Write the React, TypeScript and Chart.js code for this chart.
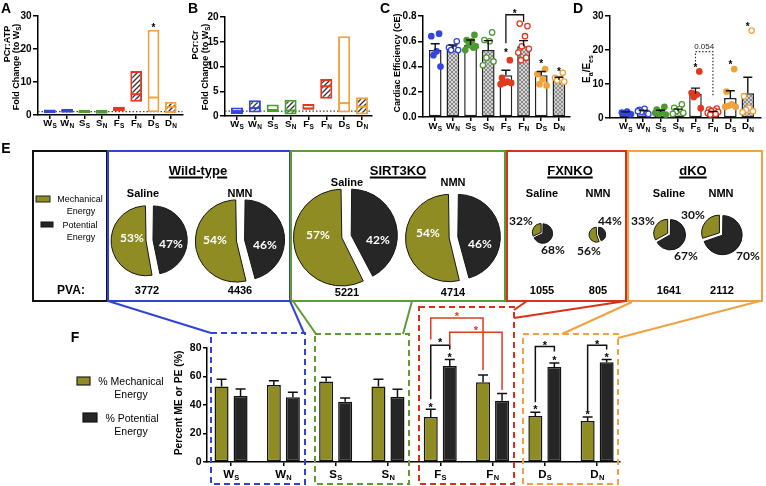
import { useEffect, useRef } from 'react';
import { Chart, registerables } from 'chart.js';

Chart.register(...registerables);

const FONT = '"Liberation Sans", Arial, Helvetica, sans-serif';
const PCT_FONT = 'Lato, "Open Sans", sans-serif';

// ---------- categories ----------
const CAT_MAIN = ['W', 'W', 'S', 'S', 'F', 'F', 'D', 'D'];
const CAT_SUB = ['S', 'N', 'S', 'N', 'S', 'N', 'S', 'N'];
const IS_NMN = [false, true, false, true, false, true, false, true];

const BLUE = '#3246dc';
const GREEN = '#4c9b2e';
const RED = '#e1381f';
const ORANGE = '#f1a33b';
const OLIVE = '#8e8c22';
const DARK = '#262626';
const GROUP_COLORS = [BLUE, BLUE, GREEN, GREEN, RED, RED, ORANGE, ORANGE];

// ---------- Panel A: PCr:ATP fold change (floating min-max with mean line) ----------
const A_LOW = [0.5, 0.7, 0.5, 0.4, 1.2, 4.0, 0.8, 0.6];
const A_HIGH = [1.7, 1.9, 1.6, 1.6, 2.5, 13.3, 25.8, 4.0];
const A_MID = [1.1, 1.3, 1.0, 1.0, 1.9, 6.3, 5.3, 2.4];
const A_STARS = [[6, 27.2]];

// ---------- Panel B: PCr:Cr fold change ----------
const B_LOW = [0.4, 0.7, 1.0, 0.3, 1.3, 3.5, 0.7, 0.3];
const B_HIGH = [1.7, 3.2, 2.3, 3.3, 2.4, 7.5, 16.1, 3.8];
const B_MID = [1.0, 1.6, 1.0, 1.1, 1.5, 6.0, 2.6, 1.9];

// ---------- Panel C: cardiac efficiency ----------
const C_MEAN = [0.53, 0.54, 0.57, 0.53, 0.33, 0.56, 0.33, 0.295];
const C_ERR_TOP = [0.58, 0.57, 0.61, 0.605, 0.37, 0.605, 0.36, 0.315];
const C_POINTS = [
  [0.66, 0.64, 0.52, 0.49, 0.4],
  [0.6, 0.55, 0.54, 0.53, 0.53],
  [0.65, 0.61, 0.6, 0.57, 0.56, 0.53, 0.55],
  [0.67, 0.61, 0.6, 0.47, 0.44, 0.41],
  [0.45, 0.31, 0.28, 0.27, 0.27, 0.26],
  [0.72, 0.74, 0.64, 0.56, 0.54, 0.51, 0.47, 0.45],
  [0.38, 0.34, 0.3, 0.26, 0.25],
  [0.35, 0.31, 0.3, 0.29, 0.28],
];
const C_STARS = [[4, 0.526], [6, 0.44], [7, 0.38]];
const C_BRACKET = { from: 4, to: 5, left: 0.585, top: 0.81, right: 0.755, star: 0.835 };

// ---------- Panel D: Ea/Ees ----------
const D_MEAN = [1.5, 1.9, 1.8, 2.0, 7.1, 1.6, 5.9, 7.3];
const D_ERR_TOP = [1.8, 2.2, 2.3, 2.6, 8.8, 1.9, 8.0, 12.0];
const D_POINTS = [
  [1.2, 1.6, 1.9, 1.4, 1.1],
  [1.5, 2.4, 2.7, 1.8, 1.2, 2.0],
  [3.3, 2.5, 1.8, 1.2, 1.0, 1.5],
  [4.0, 3.0, 2.6, 2.0, 1.5, 1.2],
  [13.7, 7.4, 6.9, 6.2, 2.9],
  [2.8, 2.5, 2.2, 2.0, 1.8, 1.5, 1.2, 1.0],
  [14.4, 7.8, 4.0, 3.6, 3.3, 3.3],
  [25.7, 6.4, 3.0, 2.4, 2.0, 1.7],
];
const D_STARS = [[4, 15.6], [6, 16.3], [7, 27.7]];
const D_BRACKET = { from: 4, to: 5, left: 16.6, top: 19.5, right: 6.2, label: '0.054', labelY: 20.9 };

// ---------- Panel E: pies ----------
const E_GROUP_TITLES = ['Wild-type', 'SIRT3KO', 'FXNKO', 'dKO'];
const E_TREATMENTS = ['Saline', 'NMN', 'Saline', 'NMN', 'Saline', 'NMN', 'Saline', 'NMN'];
const E_ME = [53, 54, 57, 54, 32, 56, 33, 30];
const E_PE = [47, 46, 42, 46, 68, 44, 67, 70];
const E_PVA = [3772, 4436, 5221, 4714, 1055, 805, 1641, 2112];

// ---------- Panel F: % ME / % PE ----------
const F_ME = [53, 54, 56.5, 53, 31.6, 56, 32.3, 28.8];
const F_ME_ERR = [58, 57, 59.5, 58, 37, 61, 35, 31.6];
const F_PE = [46.3, 45.5, 42.3, 45.6, 67.4, 43, 66.7, 70];
const F_PE_ERR = [51.3, 49, 45, 51, 72, 48, 69.5, 72];
const F_STAR_ME = [false, false, false, false, true, false, true, true];
const F_STAR_PE = [false, false, false, false, true, false, true, true];
// [group, left leg bottom, top, right leg bottom, star]
const F_BRACKETS = [
  [4, 44, 82, 79, 85.5],
  [6, 42, 81, 77.5, 84],
  [7, 36, 82, 79, 84.5],
];
// [from group, to group, series (0 ME, 1 PE), left bottom, top, right bottom, star]
const F_RED_BRACKETS = [
  [4, 5, 0, 86, 101, 64.5, 104.3],
  [4, 5, 1, 82, 91, 50.5, 94.5],
];

// ---------- layout (not data) ----------
const JITTER = [0.22, -0.22, 0.08, -0.1, 0.3, -0.3, 0.15, -0.15];
const PIE_CENTER = [[149, 240], [240, 240], [346, 236], [453, 237], [542, 233], [597, 234], [669, 234], [721, 234]];
const ME_LBL = [[132, 238], [215, 240], [318, 235], [428, 233], [521, 221], [589, 251], [643, 221], [693, 215]];
const PE_LBL = [[171, 244], [265, 245], [378, 240], [480, 244], [553, 250], [610, 221], [686, 256], [748, 256]];
const LBL_INSIDE = [true, true, true, true, false, false, false, false];
const TREAT_LBL = [[143, 193], [240, 193], [347, 182], [453, 182], [542, 193], [598, 193], [669, 193], [721, 193]];
const PVA_LBL = [[147, 290], [240, 290], [347, 292], [453, 292], [542, 290], [598, 290], [669, 290], [722, 290]];
const TITLE_LBL = [[198, 170], [398, 170], [570, 170], [693, 170]];
const PVA_PER_PX = 108;

// ---------- helpers ----------
function hatchPattern(bg: string, fg: string, size: number, lw: number, cross: boolean) {
  const c = document.createElement('canvas');
  c.width = size;
  c.height = size;
  const ctx = c.getContext('2d')!;
  ctx.fillStyle = bg;
  ctx.fillRect(0, 0, size, size);
  ctx.strokeStyle = fg;
  ctx.lineWidth = lw;
  ctx.beginPath();
  ctx.moveTo(-1, size + 1);
  ctx.lineTo(size + 1, -1);
  ctx.moveTo(-1, 1);
  ctx.lineTo(1, -1);
  ctx.moveTo(size - 1, size + 1);
  ctx.lineTo(size + 1, size - 1);
  if (cross) {
    ctx.moveTo(-1, -1);
    ctx.lineTo(size + 1, size + 1);
    ctx.moveTo(size - 1, -1);
    ctx.lineTo(size + 1, 1);
    ctx.moveTo(-1, size - 1);
    ctx.lineTo(1, size + 1);
  }
  ctx.stroke();
  return ctx.createPattern(c, 'repeat')!;
}

function yAxis(o: { min: number; max: number; step: number; width: number; size: number; tick: number; fmt?: (v: number) => string }) {
  return {
    type: 'linear',
    position: 'left',
    min: o.min,
    max: o.max,
    ticks: {
      stepSize: o.step,
      color: '#000',
      padding: 1.5,
      font: { family: FONT, size: o.size, weight: 'bold' },
      callback: (v: any) => (o.fmt ? o.fmt(Number(v)) : String(v)),
    },
    grid: { drawOnChartArea: false, drawTicks: true, tickLength: o.tick, color: '#000', lineWidth: 1.5 },
    border: { display: true, color: '#000', width: 1.5 },
    afterFit: (s: any) => {
      s.width = o.width;
    },
  };
}

function xAxis(min: number, max: number, height: number) {
  return {
    type: 'linear',
    position: 'bottom',
    min,
    max,
    offset: false,
    ticks: { display: false, stepSize: 1, includeBounds: false },
    grid: { drawOnChartArea: false, drawTicks: true, tickLength: 4, color: '#000', lineWidth: 1.5, offset: false },
    border: { display: true, color: '#000', width: 1.5 },
    afterFit: (s: any) => {
      s.height = height;
    },
  };
}

function baseOptions(padding: any, scales: any) {
  return {
    animation: false,
    responsive: false,
    maintainAspectRatio: false,
    devicePixelRatio: 1,
    events: [],
    layout: { padding },
    plugins: { legend: { display: false }, tooltip: { enabled: false } },
    scales,
  };
}

function catLabels(id: string, yOff: number, size: number, subSize: number, subDrop: number) {
  return {
    id,
    afterDraw(chart: any) {
      const { ctx, chartArea } = chart;
      const xs = chart.scales.x;
      ctx.save();
      ctx.fillStyle = '#000';
      ctx.textAlign = 'left';
      ctx.textBaseline = 'alphabetic';
      CAT_MAIN.forEach((m, i) => {
        const s = CAT_SUB[i];
        ctx.font = `bold ${size}px ${FONT}`;
        const w1 = ctx.measureText(m).width;
        ctx.font = `bold ${subSize}px ${FONT}`;
        const w2 = ctx.measureText(s).width;
        const x0 = xs.getPixelForValue(i) - (w1 + w2) / 2;
        const yb = chartArea.bottom + yOff;
        ctx.font = `bold ${size}px ${FONT}`;
        ctx.fillText(m, x0, yb);
        ctx.font = `bold ${subSize}px ${FONT}`;
        ctx.fillText(s, x0 + w1 + 0.3, yb + subDrop);
      });
      ctx.restore();
    },
  };
}

function errorBars(id: string, specs: { ds: number; tops: number[] }[], cap: number, lw: number) {
  return {
    id,
    afterDatasetsDraw(chart: any) {
      const ctx = chart.ctx;
      const ys = chart.scales.y;
      ctx.save();
      ctx.strokeStyle = '#111';
      ctx.lineWidth = lw;
      specs.forEach((sp) => {
        chart.getDatasetMeta(sp.ds).data.forEach((bar: any, i: number) => {
          const y1 = ys.getPixelForValue(sp.tops[i]);
          ctx.beginPath();
          ctx.moveTo(bar.x, bar.y);
          ctx.lineTo(bar.x, y1);
          ctx.moveTo(bar.x - cap, y1);
          ctx.lineTo(bar.x + cap, y1);
          ctx.stroke();
        });
      });
      ctx.restore();
    },
  };
}

function drawStar(ctx: any, x: number, y: number, size: number, color = '#000') {
  ctx.save();
  ctx.fillStyle = color;
  ctx.font = `bold ${size}px ${FONT}`;
  ctx.textAlign = 'center';
  ctx.textBaseline = 'alphabetic';
  ctx.fillText('*', x, y + size * 0.57);
  ctx.restore();
}

function drawBracket(ctx: any, x1: number, y1: number, yt: number, x2: number, y2: number, color: string, lw: number, dash?: number[]) {
  ctx.save();
  ctx.strokeStyle = color;
  ctx.lineWidth = lw;
  if (dash) ctx.setLineDash(dash);
  ctx.beginPath();
  ctx.moveTo(x1, y1);
  ctx.lineTo(x1, yt);
  ctx.lineTo(x2, yt);
  ctx.lineTo(x2, y2);
  ctx.stroke();
  ctx.restore();
}

// ---------- chart configs ----------
function floatConfig(
  low: number[],
  high: number[],
  mid: number[],
  stars: number[][],
  L: { yMax: number; yStep: number; yWidth: number; padTop: number; padRight: number; xHeight: number; xMin: number; xMax: number; labOff: number }
) {
  const hatch = hatchPattern('#ffffff', '#333333', 5, 1.3, false);
  return {
    type: 'bar',
    data: {
      datasets: [
        {
          type: 'scatter',
          data: mid.map((v, i) => ({ x: i, y: v })),
          pointStyle: 'line',
          pointRadius: 5.5,
          pointBorderWidth: 2,
          pointBorderColor: GROUP_COLORS,
          pointBackgroundColor: GROUP_COLORS,
          order: 1,
        },
        {
          type: 'bar',
          data: low.map((v, i) => ({ x: i, y: [v, high[i]] })),
          backgroundColor: IS_NMN.map((n) => (n ? hatch : '#ffffff')),
          borderColor: GROUP_COLORS,
          borderWidth: 2,
          borderSkipped: false,
          categoryPercentage: 0.85,
          barPercentage: 0.8,
          order: 2,
        },
      ],
    },
    options: baseOptions(
      { top: L.padTop, right: L.padRight, left: 0, bottom: 0 },
      {
        x: xAxis(L.xMin, L.xMax, L.xHeight),
        y: yAxis({ min: 0, max: L.yMax, step: L.yStep, width: L.yWidth, size: 10, tick: 5 }),
      }
    ),
    plugins: [
      {
        id: 'refLine',
        beforeDatasetsDraw(chart: any) {
          const { ctx, chartArea } = chart;
          const y = chart.scales.y.getPixelForValue(1);
          ctx.save();
          ctx.strokeStyle = '#444';
          ctx.lineWidth = 1.2;
          ctx.setLineDash([1.5, 2]);
          ctx.beginPath();
          ctx.moveTo(chartArea.left, y);
          ctx.lineTo(chartArea.right, y);
          ctx.stroke();
          ctx.restore();
        },
      },
      {
        id: 'stars',
        afterDraw(chart: any) {
          stars.forEach(([g, v]) => drawStar(chart.ctx, chart.scales.x.getPixelForValue(g), chart.scales.y.getPixelForValue(v), 10));
        },
      },
      catLabels('labs', L.labOff, 9.5, 6.5, 2.4),
    ],
  };
}

function dotConfig(
  mean: number[],
  errTop: number[],
  points: number[][],
  annot: (chart: any) => void,
  L: { yMax: number; yStep: number; yWidth: number; padTop: number; padRight: number; xHeight: number; xMin: number; xMax: number; labOff: number; fmt?: (v: number) => string }
) {
  const gray = hatchPattern('#d2d2d2', '#8a8a8a', 4, 1, true);
  const scatterSets = points.map((pts, i) => ({
    type: 'scatter',
    data: pts.map((v, j) => ({ x: i + JITTER[j % JITTER.length], y: v })),
    pointRadius: 2.7,
    pointBorderWidth: 1.3,
    pointBackgroundColor: IS_NMN[i] ? '#ffffff' : GROUP_COLORS[i],
    pointBorderColor: GROUP_COLORS[i],
    order: 1,
  }));
  return {
    type: 'bar',
    data: {
      datasets: [
        ...scatterSets,
        {
          type: 'bar',
          data: mean.map((v, i) => ({ x: i, y: v })),
          backgroundColor: IS_NMN.map((n) => (n ? gray : '#ffffff')),
          borderColor: '#222',
          borderWidth: 1.5,
          borderSkipped: false,
          categoryPercentage: 0.9,
          barPercentage: 0.8,
          order: 2,
        },
      ],
    },
    options: baseOptions(
      { top: L.padTop, right: L.padRight, left: 0, bottom: 0 },
      {
        x: xAxis(L.xMin, L.xMax, L.xHeight),
        y: yAxis({ min: 0, max: L.yMax, step: L.yStep, width: L.yWidth, size: 10, tick: 5, fmt: L.fmt }),
      }
    ),
    plugins: [
      errorBars('err', [{ ds: points.length, tops: errTop }], 4.5, 1.4),
      { id: 'annot', afterDraw: annot },
      catLabels('labs', L.labOff, 9.5, 6.5, 2.4),
    ],
  };
}

const makeA = () =>
  floatConfig(A_LOW, A_HIGH, A_MID, A_STARS, {
    yMax: 30, yStep: 10, yWidth: 38, padTop: 16, padRight: 5, xHeight: 20, xMin: -0.683, xMax: 7.68, labOff: 11,
  });

const makeB = () =>
  floatConfig(B_LOW, B_HIGH, B_MID, [], {
    yMax: 20, yStep: 5, yWidth: 35, padTop: 17, padRight: 8, xHeight: 19, xMin: -0.67, xMax: 7.56, labOff: 10.7,
  });

const makeC = () =>
  dotConfig(
    C_MEAN,
    C_ERR_TOP,
    C_POINTS,
    (chart: any) => {
      const xs = chart.scales.x;
      const ys = chart.scales.y;
      const ctx = chart.ctx;
      C_STARS.forEach(([g, v]) => drawStar(ctx, xs.getPixelForValue(g), ys.getPixelForValue(v), 10));
      const b = C_BRACKET;
      const x1 = xs.getPixelForValue(b.from);
      const x2 = xs.getPixelForValue(b.to);
      drawBracket(ctx, x1, ys.getPixelForValue(b.left), ys.getPixelForValue(b.top), x2, ys.getPixelForValue(b.right), '#111', 1.3);
      drawStar(ctx, (x1 + x2) / 2, ys.getPixelForValue(b.star), 10);
    },
    {
      yMax: 0.8, yStep: 0.2, yWidth: 43, padTop: 16, padRight: 2, xHeight: 18, xMin: -0.69, xMax: 7.61, labOff: 12,
      fmt: (v: number) => v.toFixed(1),
    }
  );

const makeD = () =>
  dotConfig(
    D_MEAN,
    D_ERR_TOP,
    D_POINTS,
    (chart: any) => {
      const xs = chart.scales.x;
      const ys = chart.scales.y;
      const ctx = chart.ctx;
      D_STARS.forEach(([g, v]) => drawStar(ctx, xs.getPixelForValue(g), ys.getPixelForValue(v), 10));
      const b = D_BRACKET;
      const x1 = xs.getPixelForValue(b.from);
      const x2 = xs.getPixelForValue(b.to);
      drawBracket(ctx, x1, ys.getPixelForValue(b.left), ys.getPixelForValue(b.top), x2, ys.getPixelForValue(b.right), '#333', 1.2, [1.5, 1.8]);
      ctx.save();
      ctx.fillStyle = '#222';
      ctx.font = `8px ${FONT}`;
      ctx.textAlign = 'center';
      ctx.textBaseline = 'middle';
      ctx.fillText(b.label, (x1 + x2) / 2, ys.getPixelForValue(b.labelY));
      ctx.restore();
    },
    {
      yMax: 30, yStep: 10, yWidth: 35, padTop: 16, padRight: 3, xHeight: 17, xMin: -0.9, xMax: 7.74, labOff: 11.3,
    }
  );

const makeF = () => ({
  type: 'bar',
  data: {
    datasets: [
      {
        label: '% Mechanical Energy',
        data: F_ME.map((v, i) => ({ x: i, y: v })),
        backgroundColor: OLIVE,
        borderColor: '#151515',
        borderWidth: 1.5,
        borderSkipped: false,
        categoryPercentage: 0.727,
        barPercentage: 0.737,
      },
      {
        label: '% Potential Energy',
        data: F_PE.map((v, i) => ({ x: i, y: v })),
        backgroundColor: DARK,
        borderColor: '#111',
        borderWidth: 1.5,
        borderSkipped: false,
        categoryPercentage: 0.727,
        barPercentage: 0.737,
      },
    ],
  },
  options: baseOptions(
    { top: 48, right: 20, left: 0, bottom: 0 },
    {
      x: xAxis(-0.46, 7.437, 24),
      y: yAxis({ min: 0, max: 80, step: 20, width: 57, size: 10.5, tick: 4 }),
    }
  ),
  plugins: [
    errorBars('err', [{ ds: 0, tops: F_ME_ERR }, { ds: 1, tops: F_PE_ERR }], 5, 1.5),
    {
      id: 'annotF',
      afterDraw(chart: any) {
        const ctx = chart.ctx;
        const ys = chart.scales.y;
        const me = chart.getDatasetMeta(0).data;
        const pe = chart.getDatasetMeta(1).data;
        const sets = [me, pe];
        F_STAR_ME.forEach((s, i) => {
          if (s) drawStar(ctx, me[i].x, ys.getPixelForValue(F_ME_ERR[i] + 3.5), 11);
        });
        F_STAR_PE.forEach((s, i) => {
          if (s) drawStar(ctx, pe[i].x, ys.getPixelForValue(F_PE_ERR[i] + 3.5), 11);
        });
        F_BRACKETS.forEach(([g, l, t, r, st]) => {
          const x1 = me[g].x;
          const x2 = pe[g].x;
          drawBracket(ctx, x1, ys.getPixelForValue(l), ys.getPixelForValue(t), x2, ys.getPixelForValue(r), '#111', 1.5);
          drawStar(ctx, (x1 + x2) / 2, ys.getPixelForValue(st), 11);
        });
        F_RED_BRACKETS.forEach(([g1, g2, d, l, t, r, st]) => {
          const x1 = sets[d][g1].x;
          const x2 = sets[d][g2].x;
          drawBracket(ctx, x1, ys.getPixelForValue(l), ys.getPixelForValue(t), x2, ys.getPixelForValue(r), RED, 1.5);
          drawStar(ctx, (x1 + x2) / 2, ys.getPixelForValue(st), 11, RED);
        });
      },
    },
    catLabels('labsF', 15.7, 11.5, 7.5, 2.4),
  ],
});

// Chart.js shifts an exploded arc outward by offset/4 and also grows its
// radius by about the same amount, so the drawn radius is reduced to compensate.
function pieSize(i: number) {
  const r = E_PVA[i] / PVA_PER_PX;
  const shift = Math.max(1, r * 0.1);
  const S = Math.ceil(2 * (r + shift) + 8);
  return { r, shift, off: shift * 4, S };
}

const makePie = (i: number) => () => {
  const { r, shift, off } = pieSize(i);
  return {
    type: 'pie',
    data: {
      labels: ['Potential Energy', 'Mechanical Energy'],
      datasets: [
        {
          data: [E_PE[i], E_ME[i]],
          backgroundColor: [DARK, OLIVE],
          borderColor: '#161616',
          borderWidth: 1,
          offset: off,
        },
      ],
    },
    options: {
      animation: false,
      responsive: false,
      maintainAspectRatio: false,
      devicePixelRatio: 1,
      events: [],
      radius: r - shift,
      layout: { padding: 0 },
      plugins: { legend: { display: false }, tooltip: { enabled: false } },
    },
  };
};

// ---------- React pieces ----------
function ChartCanvas({ left, top, width, height, make }: { left: number; top: number; width: number; height: number; make: () => any }) {
  const ref = useRef<HTMLCanvasElement | null>(null);
  useEffect(() => {
    if (!ref.current) return;
    const chart = new Chart(ref.current, make() as any);
    return () => chart.destroy();
  }, []);
  return <canvas ref={ref} width={width} height={height} style={{ position: 'absolute', left, top, width, height }} />;
}

function Txt(p: { x: number; y: number; size: number; bold?: boolean; color?: string; rotate?: boolean; underline?: boolean; family?: string; children: any }) {
  return (
    <div
      style={{
        position: 'absolute',
        left: p.x,
        top: p.y,
        transform: `translate(-50%, -50%)${p.rotate ? ' rotate(-90deg)' : ''}`,
        fontFamily: p.family || FONT,
        fontSize: p.size,
        fontWeight: p.bold ? 700 : 400,
        color: p.color || '#000',
        whiteSpace: 'nowrap',
        lineHeight: 1,
        textDecoration: p.underline ? 'underline' : 'none',
        textDecorationThickness: p.underline ? '1.5px' : undefined,
        textUnderlineOffset: p.underline ? '2px' : undefined,
      }}
    >
      {p.children}
    </div>
  );
}

const sub = (s: string) => <span style={{ fontSize: '0.7em', verticalAlign: '-0.3em' }}>{s}</span>;

export default function App() {
  const boxColors = { black: '#111', blue: '#2f43d6', green: '#5d9b33', red: '#d8321d', orange: '#efa23f' };
  return (
    <div style={{ position: 'absolute', left: 0, top: 0, width: 766, height: 486, background: '#fff', overflow: 'hidden', fontFamily: FONT }}>
      <ChartCanvas left={0} top={0} width={190} height={135} make={makeA} />
      <ChartCanvas left={190} top={0} width={190} height={135} make={makeB} />
      <ChartCanvas left={380} top={0} width={195} height={135} make={makeC} />
      <ChartCanvas left={575} top={0} width={191} height={135} make={makeD} />
      <ChartCanvas left={150} top={300} width={490} height={186} make={makeF} />
      {E_PVA.map((_, i) => {
        const { S } = pieSize(i);
        const [cx, cy] = PIE_CENTER[i];
        return <ChartCanvas key={i} left={Math.round(cx - S / 2)} top={Math.round(cy - S / 2)} width={S} height={S} make={makePie(i)} />;
      })}

      <svg width={766} height={486} style={{ position: 'absolute', left: 0, top: 0, pointerEvents: 'none' }}>
        <g fill="none" strokeWidth={2}>
          <rect x={33} y={151} width={74} height={150} stroke={boxColors.black} />
          <rect x={108} y={151} width={182} height={150} stroke={boxColors.blue} />
          <rect x={291} y={151} width={214} height={150} stroke={boxColors.green} />
          <rect x={507} y={151} width={119} height={150} stroke={boxColors.red} />
          <rect x={628} y={151} width={134} height={150} stroke={boxColors.orange} />
          <line x1={108} y1={301} x2={211} y2={333} stroke={boxColors.blue} />
          <line x1={290} y1={301} x2={304} y2={333} stroke={boxColors.blue} />
          <line x1={293} y1={301} x2={316} y2={334} stroke={boxColors.green} />
          <line x1={412} y1={301} x2={403} y2={334} stroke={boxColors.green} />
          <line x1={527} y1={301} x2={514} y2={310} stroke={boxColors.red} />
          <line x1={626} y1={301} x2={514} y2={318} stroke={boxColors.red} />
          <line x1={632} y1={302} x2={562} y2={334} stroke={boxColors.orange} />
          <line x1={760} y1={301} x2={618} y2={338} stroke={boxColors.orange} />
        </g>
        <g fill="none" strokeWidth={2} strokeDasharray="6 4">
          <rect x={211} y={333} width={94} height={151} stroke={boxColors.blue} />
          <rect x={315} y={334} width={94} height={150} stroke={boxColors.green} />
          <rect x={419} y={307} width={95} height={177} stroke={boxColors.red} />
          <rect x={523} y={334} width={95} height={150} stroke={boxColors.orange} />
        </g>
        <rect x={36} y={196} width={14} height={6} fill={OLIVE} stroke="#222" strokeWidth={1} />
        <rect x={41} y={222} width={12} height={5} fill={DARK} stroke="#111" strokeWidth={1} />
        <rect x={77} y={377} width={13} height={8} fill={OLIVE} stroke="#222" strokeWidth={1.2} />
        <rect x={83} y={413} width={14} height={9} fill={DARK} stroke="#111" strokeWidth={1.2} />
      </svg>

      {/* panel letters */}
      <Txt x={6} y={8} size={14} bold>A</Txt>
      <Txt x={193} y={8} size={14} bold>B</Txt>
      <Txt x={385} y={8} size={14} bold>C</Txt>
      <Txt x={578} y={8} size={14} bold>D</Txt>
      <Txt x={6} y={148} size={14} bold>E</Txt>
      <Txt x={75} y={337} size={14} bold>F</Txt>

      {/* axis titles */}
      <Txt x={7} y={44} size={9} bold rotate>PCr:ATP</Txt>
      <Txt x={17} y={67} size={9} bold rotate>Fold Change (to W{sub('S')})</Txt>
      <Txt x={195} y={45} size={9} bold rotate>PCr:Cr</Txt>
      <Txt x={206} y={67} size={9} bold rotate>Fold Change (to W{sub('S')})</Txt>
      <Txt x={397} y={63} size={9} bold rotate>Cardiac Efficiency (CE)</Txt>
      <Txt x={588} y={69} size={10} bold rotate>E{sub('a')}/E{sub('es')}</Txt>
      <Txt x={179} y={403} size={10.3} bold rotate>Percent ME or PE (%)</Txt>

      {/* E legend */}
      <Txt x={80} y={199} size={9}>Mechanical</Txt>
      <Txt x={81} y={211} size={9}>Energy</Txt>
      <Txt x={80} y={225} size={9}>Potential</Txt>
      <Txt x={81} y={237} size={9}>Energy</Txt>
      <Txt x={71} y={290} size={12} bold>PVA:</Txt>

      {/* E titles */}
      {E_GROUP_TITLES.map((t, i) => (
        <Txt key={t} x={TITLE_LBL[i][0]} y={TITLE_LBL[i][1]} size={13} bold underline>{t}</Txt>
      ))}
      {E_TREATMENTS.map((t, i) => (
        <Txt key={'t' + i} x={TREAT_LBL[i][0]} y={TREAT_LBL[i][1]} size={11} bold>{t}</Txt>
      ))}
      {E_PVA.map((v, i) => (
        <Txt key={'p' + i} x={PVA_LBL[i][0]} y={PVA_LBL[i][1]} size={11} bold>{String(v)}</Txt>
      ))}
      {E_ME.map((v, i) => (
        <Txt key={'me' + i} x={ME_LBL[i][0]} y={ME_LBL[i][1]} size={12} bold family={PCT_FONT} color={LBL_INSIDE[i] ? '#fff' : '#111'}>{v + '%'}</Txt>
      ))}
      {E_PE.map((v, i) => (
        <Txt key={'pe' + i} x={PE_LBL[i][0]} y={PE_LBL[i][1]} size={12} bold family={PCT_FONT} color={LBL_INSIDE[i] ? '#fff' : '#111'}>{v + '%'}</Txt>
      ))}

      {/* F legend */}
      <Txt x={131} y={381} size={10.5}>% Mechanical</Txt>
      <Txt x={131} y={394} size={10.5}>Energy</Txt>
      <Txt x={132} y={418} size={10.5}>% Potential</Txt>
      <Txt x={131} y={431} size={10.5}>Energy</Txt>
    </div>
  );
}
